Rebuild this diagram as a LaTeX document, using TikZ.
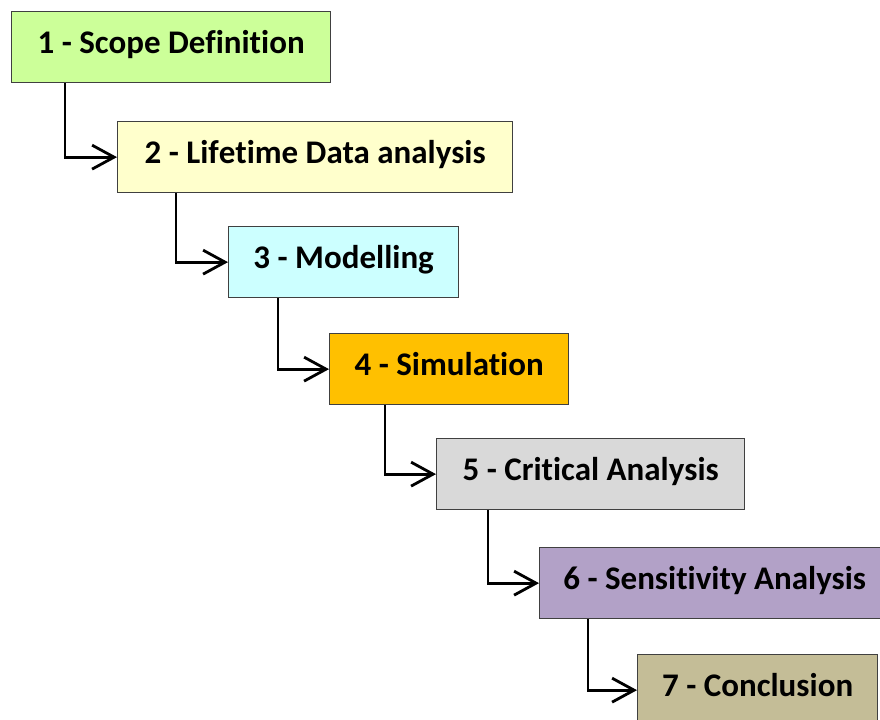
\documentclass[tikz,border=0pt]{standalone}
\usepackage{fontspec}
\setmainfont{Carlito}
\usetikzlibrary{arrows.meta,calc}
\newcommand{\nolig}{\kern0pt{}}
\definecolor{c1}{HTML}{CCFF99}
\definecolor{c2}{HTML}{FFFFCC}
\definecolor{c3}{HTML}{CCFFFF}
\definecolor{c4}{HTML}{FFC000}
\definecolor{c5}{HTML}{D9D9D9}
\definecolor{c6}{HTML}{B2A1C7}
\definecolor{c7}{HTML}{C4BD97}
\definecolor{edge}{HTML}{404040}
\tikzset{
  stepbox/.style={draw=edge, line width=1.3bp, rectangle, anchor=north west,
    minimum height=71bp, inner sep=0pt, text height=21bp, text depth=8bp,
    font=\fontsize{33bp}{36bp}\selectfont\bfseries},
  arr/.style={line width=2.8bp, -{Straight Barb[length=22bp,width=24bp,line width=2.8bp]}}
}
\begin{document}
\begin{tikzpicture}[x=1bp,y=-1bp]
\path[use as bounding box] (0,0) rectangle (880,720);
\node[stepbox, fill=c1, minimum width=319bp] (b1) at (11,11) {1 - Scope Def\nolig ini\nolig t\nolig ion};
\node[stepbox, fill=c2, minimum width=395bp] (b2) at (117,121) {2 - Lif\nolig et\nolig ime Data analysis};
\node[stepbox, fill=c3, minimum width=230bp] (b3) at (228,226) {3 - Modelling};
\node[stepbox, fill=c4, minimum width=239bp] (b4) at (329,333) {4 - Simulat\nolig ion};
\node[stepbox, fill=c5, minimum width=308bp] (b5) at (436,438) {5 - Crit\nolig ical Analysis};
\node[stepbox, fill=c6, minimum width=350bp] (b6) at (539,547) {6 - Sensit\nolig ivit\nolig y Analysis};
\node[stepbox, fill=c7, minimum width=240bp] (b7) at (637,654) {7 - Conclusion};
\draw[arr] ($(b1.south west)+(54,0)$) |- (b2.west);
\draw[arr] ($(b2.south west)+(59,0)$) |- (b3.west);
\draw[arr] ($(b3.south west)+(50,0)$) |- (b4.west);
\draw[arr] ($(b4.south west)+(56,0)$) |- (b5.west);
\draw[arr] ($(b5.south west)+(52,0)$) |- (b6.west);
\draw[arr] ($(b6.south west)+(49,0)$) |- (b7.west);
\end{tikzpicture}
\end{document}
